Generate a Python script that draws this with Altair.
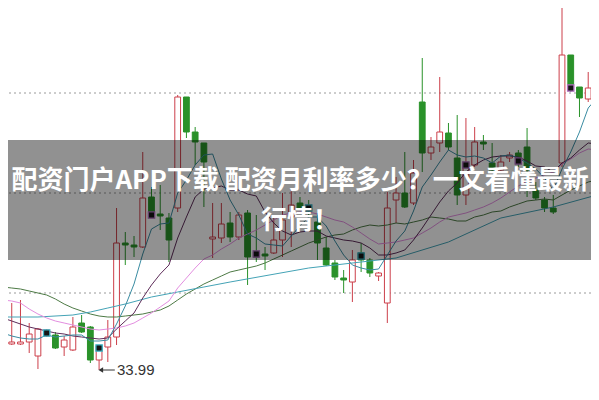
import altair as alt
import pandas as pd

# ---------------- data ----------------
idx = list(range(69))

opens = [34.54, 34.25, 34.25, 34.27, 34.13, 34.33, 34.34, 34.22, 34.19, 34.46,
         34.42, 34.09, 34.22, 34.32, 35.26, 35.24, 35.22, 35.72, 35.55, 35.51,
         35.61, 36.72, 36.37, 36.26, 35.30, 35.31, 35.46, 35.32, 35.56, 35.17,
         35.15, 35.16, 35.29, 35.52, 35.66, 35.62, 35.47, 35.21, 35.06, 34.91,
         34.87, 35.16, 35.09, 34.93, 34.66, 35.69, 35.76, 35.66, 36.67, 36.16,
         36.26, 36.36, 36.11, 35.74, 36.04, 36.27, 36.06, 35.99, 36.11, 36.16,
         36.22, 35.79, 35.69, 35.61, 36.06, 37.14, 36.82, 36.70, 36.31]

closes = [34.23, 34.27, 34.27, 34.35, 34.40, 34.39, 34.21, 34.29, 34.42, 34.37,
          34.09, 34.23, 34.32, 35.26, 35.24, 35.22, 35.71, 35.56, 35.53, 35.29,
          36.72, 36.37, 36.27, 36.07, 35.32, 35.45, 35.32, 35.54, 35.12, 35.12,
          35.13, 35.29, 35.49, 35.64, 35.61, 35.59, 35.26, 35.04, 34.92, 34.89,
          35.09, 35.09, 34.96, 34.96, 35.61, 35.76, 35.62, 35.96, 36.16, 36.22,
          36.37, 36.22, 35.74, 36.06, 36.27, 36.25, 35.99, 36.07, 36.14, 36.09,
          35.99, 35.71, 35.61, 35.57, 37.14, 36.84, 36.71, 36.81, 36.06]

highs = [34.87, 34.66, 34.69, 34.46, 34.41, 34.40, 34.37, 34.33, 34.52, 34.54,
         34.43, 34.24, 34.49, 35.61, 35.37, 35.33, 36.17, 35.82, 35.84, 35.56,
         36.74, 36.72, 36.42, 36.26, 35.66, 35.66, 35.57, 35.57, 35.59, 35.54,
         35.22, 35.52, 35.76, 35.79, 35.72, 35.69, 35.56, 35.32, 35.09, 34.99,
         35.19, 35.26, 35.11, 34.97, 35.77, 35.92, 36.17, 36.09, 37.11, 36.32,
         36.92, 36.46, 36.54, 36.51, 36.42, 36.34, 36.26, 36.14, 36.17, 36.19,
         36.41, 35.87, 35.72, 35.74, 37.74, 37.14, 36.82, 36.97, 36.44]

lows = [34.02, 34.24, 34.24, 34.16, 34.00, 34.32, 34.20, 34.13, 34.18, 34.36,
        34.06, 33.99, 34.07, 34.24, 35.04, 35.12, 35.21, 35.51, 35.39, 35.07,
        35.57, 36.31, 36.04, 35.62, 35.11, 35.26, 35.27, 35.29, 34.84, 35.07,
        34.99, 35.15, 35.12, 35.22, 35.59, 35.54, 35.09, 35.03, 34.89, 34.76,
        34.67, 34.97, 34.92, 34.88, 34.46, 35.46, 35.61, 35.64, 35.97, 36.09,
        36.17, 36.19, 35.64, 35.64, 36.02, 36.19, 35.96, 35.97, 36.07, 36.02,
        35.72, 35.69, 35.57, 35.55, 36.02, 36.77, 36.52, 36.67, 36.04]

ma5 = [34.36, 34.33, 34.31, 34.30, 34.30, 34.34, 34.32, 34.33, 34.34, 34.34,
       34.28, 34.28, 34.29, 34.45, 34.63, 34.85, 35.15, 35.40, 35.45, 35.46,
       35.76, 35.89, 36.04, 36.14, 36.15, 35.90, 35.69, 35.54, 35.35, 35.31,
       35.25, 35.24, 35.23, 35.33, 35.43, 35.52, 35.52, 35.43, 35.28, 35.14,
       35.04, 35.01, 34.99, 35.00, 35.14, 35.28, 35.38, 35.58, 35.82, 35.94,
       36.07, 36.19, 36.14, 36.12, 36.13, 36.11, 36.06, 36.13, 36.14, 36.11,
       36.06, 36.00, 35.91, 35.79, 36.00, 36.17, 36.37, 36.61, 36.71]

ma10 = [34.51, 34.48, 34.45, 34.42, 34.40, 34.38, 34.36, 34.35, 34.33, 34.32,
        34.31, 34.30, 34.31, 34.40, 34.48, 34.56, 34.71, 34.84, 34.95, 35.04,
        35.31, 35.52, 35.72, 35.80, 35.81, 35.83, 35.79, 35.79, 35.75, 35.73,
        35.57, 35.46, 35.38, 35.34, 35.37, 35.38, 35.38, 35.33, 35.31, 35.29,
        35.28, 35.26, 35.21, 35.14, 35.14, 35.16, 35.19, 35.29, 35.41, 35.54,
        35.67, 35.78, 35.86, 35.97, 36.04, 36.09, 36.12, 36.13, 36.13, 36.12,
        36.08, 36.03, 36.02, 35.97, 36.06, 36.11, 36.19, 36.26, 36.25]

ma20 = [34.69, 34.68, 34.66, 34.60, 34.55, 34.51, 34.48, 34.46, 34.44, 34.42,
        34.40, 34.39, 34.40, 34.41, 34.43, 34.46, 34.51, 34.56, 34.62, 34.68,
        34.81, 34.91, 35.01, 35.10, 35.14, 35.20, 35.25, 35.31, 35.35, 35.39,
        35.44, 35.49, 35.54, 35.56, 35.57, 35.57, 35.55, 35.52, 35.49, 35.47,
        35.42, 35.36, 35.30, 35.25, 35.26, 35.27, 35.29, 35.31, 35.36, 35.41,
        35.47, 35.52, 35.54, 35.56, 35.59, 35.62, 35.66, 35.71, 35.77, 35.83,
        35.88, 35.91, 35.94, 35.97, 36.05, 36.10, 36.16, 36.20, 36.19]

ma30 = [34.82, 34.81, 34.80, 34.78, 34.76, 34.74, 34.70, 34.65, 34.61, 34.58,
        34.55, 34.53, 34.52, 34.52, 34.53, 34.54, 34.55, 34.57, 34.59, 34.63,
        34.69, 34.75, 34.80, 34.85, 34.89, 34.93, 34.97, 34.99, 35.01, 35.03,
        35.06, 35.10, 35.14, 35.18, 35.22, 35.26, 35.29, 35.32, 35.34, 35.35,
        35.39, 35.42, 35.44, 35.43, 35.44, 35.46, 35.45, 35.47, 35.49, 35.52,
        35.51, 35.50, 35.48, 35.48, 35.52, 35.54, 35.57, 35.58, 35.62, 35.65,
        35.68, 35.69, 35.70, 35.69, 35.74, 35.79, 35.83, 35.87, 35.89]

ma60_idx = [0, 4, 8, 10, 12, 14, 17, 20, 23, 26, 35, 45, 51, 57, 63, 68]
ma60_val = [34.52, 34.52, 34.54, 34.57, 34.61, 34.65, 34.72, 34.77, 34.82,
            34.87, 35.01, 35.11, 35.27, 35.51, 35.62, 35.74]

grid_levels = [36.76, 35.76, 34.76, 33.76]

marker_idx = [5, 11, 17, 29, 35, 41, 53, 59, 65]
marker_val = [34.36, 34.21, 35.54, 35.15, 35.61, 35.13, 36.04, 36.08, 36.81]
marker_kind = ["cyan", "cyan", "purple", "purple", "cyan", "cyan",
               "purple", "purple", "purple"]

low_idx = 11
low_value = 33.99
low_text = "33.99"

title_lines = ["配资门户APP下载 配资月利率多少？一文看懂最新", "行情！"]

# ---------------- styling ----------------
W, H = 583, 384
RED = "#cc3f4a"
GREEN = "#2a922a"
xs = alt.Scale(domain=[0.572, 67.32], nice=False, zero=False)
ys = alt.Scale(domain=[33.77, 37.61], nice=False, zero=False)
X = alt.X("i:Q", scale=xs, axis=None)

candles = pd.DataFrame({"i": idx, "open": opens, "close": closes,
                        "high": highs, "low": lows})
candles["dir"] = ["up" if c >= o else "down" for o, c in zip(opens, closes)]

layers = []

grid = alt.Chart(pd.DataFrame({"g": grid_levels})).transform_filter(
    alt.datum.g > 33.78
).mark_rule(
    color="#9a9a9a", strokeWidth=1, strokeDash=[2, 3]
).encode(y=alt.Y("g:Q", scale=ys, axis=None))
layers.append(grid)

for d, col, fill in [("up", RED, "#ffffff"), ("down", GREEN, GREEN)]:
    base = alt.Chart(candles).transform_filter(alt.datum.dir == d)
    wick = base.mark_rule(color=col, strokeWidth=1, clip=True).encode(
        x=X, y=alt.Y("low:Q", scale=ys, axis=None), y2="high:Q")
    body = base.transform_calculate(
        x0="datum.i - 0.33", x1="datum.i + 0.33"
    ).mark_rect(stroke=col, fill=fill, strokeWidth=1, clip=True).encode(
        x=alt.X("x0:Q", scale=xs, axis=None), x2="x1:Q",
        y=alt.Y("open:Q", scale=ys, axis=None), y2="close:Q")
    layers += [wick, body]

ma_sets = [
    (idx, ma30, "#4d7a45"),
    (ma60_idx, ma60_val, "#44a3b6"),
    (idx, ma20, "#e38ee0"),
    (idx, ma10, "#5e2d5a"),
    (idx, ma5, "#3a8ca2"),
]
for xi, vals, col in ma_sets:
    df = pd.DataFrame({"i": xi, "v": vals})
    layers.append(alt.Chart(df).mark_line(color=col, strokeWidth=1, clip=True).encode(
        x=X, y=alt.Y("v:Q", scale=ys, axis=None), order="i:Q"))

mk = pd.DataFrame({"i": marker_idx, "v": marker_val, "k": marker_kind})
for k, col in [("cyan", "#3fb6c8"), ("purple", "#b070c0")]:
    layers.append(alt.Chart(mk).transform_filter(alt.datum.k == k).mark_point(
        shape="square", filled=True, fill="#151515", stroke=col, strokeWidth=1.3,
        size=40, opacity=1, clip=True).encode(
        x=X, y=alt.Y("v:Q", scale=ys, axis=None)))

lab = pd.DataFrame({"a": [low_idx + 0.2], "b": [low_idx + 1.8],
                    "t": [low_idx + 2.05], "v": [low_value], "s": [low_text]})
layers.append(alt.Chart(lab).mark_rule(color="#333333", strokeWidth=1).encode(
    x=alt.X("a:Q", scale=xs, axis=None), x2="b:Q",
    y=alt.Y("v:Q", scale=ys, axis=None)))
layers.append(alt.Chart(lab).mark_point(shape="triangle-left", filled=True,
                                        color="#333333", size=28, opacity=1).encode(
    x=alt.X("a:Q", scale=xs, axis=None), y=alt.Y("v:Q", scale=ys, axis=None)))
layers.append(alt.Chart(lab).mark_text(align="left", baseline="middle", fontSize=15,
                                       font="Liberation Sans", color="#333333").encode(
    x=alt.X("t:Q", scale=xs, axis=None), y=alt.Y("v:Q", scale=ys, axis=None),
    text="s:N"))

banner = alt.Chart(pd.DataFrame({"z": [0]})).mark_rect(
    color="#000000", opacity=0.43).encode(
    x=alt.value(0), x2=alt.value(W), y=alt.value(132), y2=alt.value(252))
layers.append(banner)

for line, ypix in zip(title_lines, [173, 213]):
    layers.append(alt.Chart(pd.DataFrame({"t": [line]})).mark_text(
        font="Noto Sans CJK SC", fontSize=26, fontWeight="bold", color="#ffffff",
        align="center", baseline="middle").encode(
        x=alt.value(292), y=alt.value(ypix), text="t:N"))

chart = alt.layer(*layers).properties(
    width=W, height=H, padding=0, autosize="none"
).configure_view(stroke=None)

chart.save("out.html", embed_options={"renderer": "svg", "actions": False})
